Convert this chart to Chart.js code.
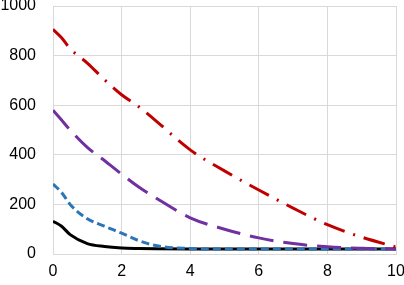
<!DOCTYPE html>
<html>
<head>
<meta charset="utf-8">
<script src="https://cdn.jsdelivr.net/npm/chart.js@4/dist/chart.umd.min.js"></script>
<style>
  html, body { margin: 0; padding: 0; background: #fff; }
  #wrap { width: 404px; height: 285px; }
</style>
</head>
<body>
<div id="wrap"><canvas id="myChart"></canvas></div>
<script>
const xs = [0, 0.25, 0.5, 1, 1.5, 2, 2.5, 3, 4, 5, 6, 7, 8, 9, 10];
const redVals    = [906, 872, 828, 770, 703, 642, 594, 537, 420, 335, 258, 185, 118, 68, 28];
const purpleVals = [580, 540, 500, 430, 377, 322, 270, 226, 146, 100, 65, 42, 29, 23, 20];
const blueVals   = [282, 248, 200, 142, 112, 84, 54, 34, 22, 20, 20, 20, 20, 20, 20];
const blackVals  = [132, 112, 78, 42, 30, 24, 22, 21, 20, 20, 20, 20, 20, 20, 20];

const pts = vals => vals.map((v, i) => ({ x: xs[i], y: v }));

const ctx = document.getElementById("myChart").getContext("2d");
var myChart = new Chart(ctx, {
  type: "line",
  data: {
    datasets: [
      {
        data: pts(redVals),
        borderColor: "#C00000",
        borderWidth: 3,
        borderDash: [22, 9, 2, 9],
        order: 1
      },
      {
        data: pts(purpleVals),
        borderColor: "#7030A0",
        borderWidth: 3,
        borderDash: [24, 10],
        order: 2
      },
      {
        data: pts(blueVals),
        borderColor: "#2E75B6",
        borderWidth: 3,
        borderDash: [8, 4],
        order: 3
      },
      {
        data: pts(blackVals),
        borderColor: "#000000",
        borderWidth: 3,
        order: 4
      }
    ]
  },
  options: {
    responsive: true,
    maintainAspectRatio: false,
    animation: false,
    elements: {
      point: { radius: 0 },
      line: { tension: 0.4, cubicInterpolationMode: "monotone" }
    },
    layout: { padding: { top: 6, right: 8, left: 0, bottom: 0 } },
    plugins: {
      legend: { display: false },
      tooltip: { enabled: false }
    },
    scales: {
      x: {
        type: "linear",
        min: 0,
        max: 10,
        ticks: {
          stepSize: 2,
          padding: 8,
          color: "#000",
          font: { family: "Liberation Sans", size: 16 }
        },
        grid: { color: "#D9D9D9", drawTicks: false },
        border: { color: "#D9D9D9" },
        afterFit: s => { s.height = 31; s.paddingLeft = 0; s.paddingRight = 0; }
      },
      y: {
        min: 0,
        max: 1000,
        ticks: {
          stepSize: 200,
          padding: 17,
          color: "#000",
          font: { family: "Liberation Sans", size: 16 },
          callback: v => String(v)
        },
        grid: { color: "#D9D9D9", drawTicks: false },
        border: { color: "#D9D9D9" },
        afterFit: s => { s.width = 53; s.paddingTop = 0; s.paddingBottom = 0; }
      }
    }
  }
});
</script>
</body>
</html>
